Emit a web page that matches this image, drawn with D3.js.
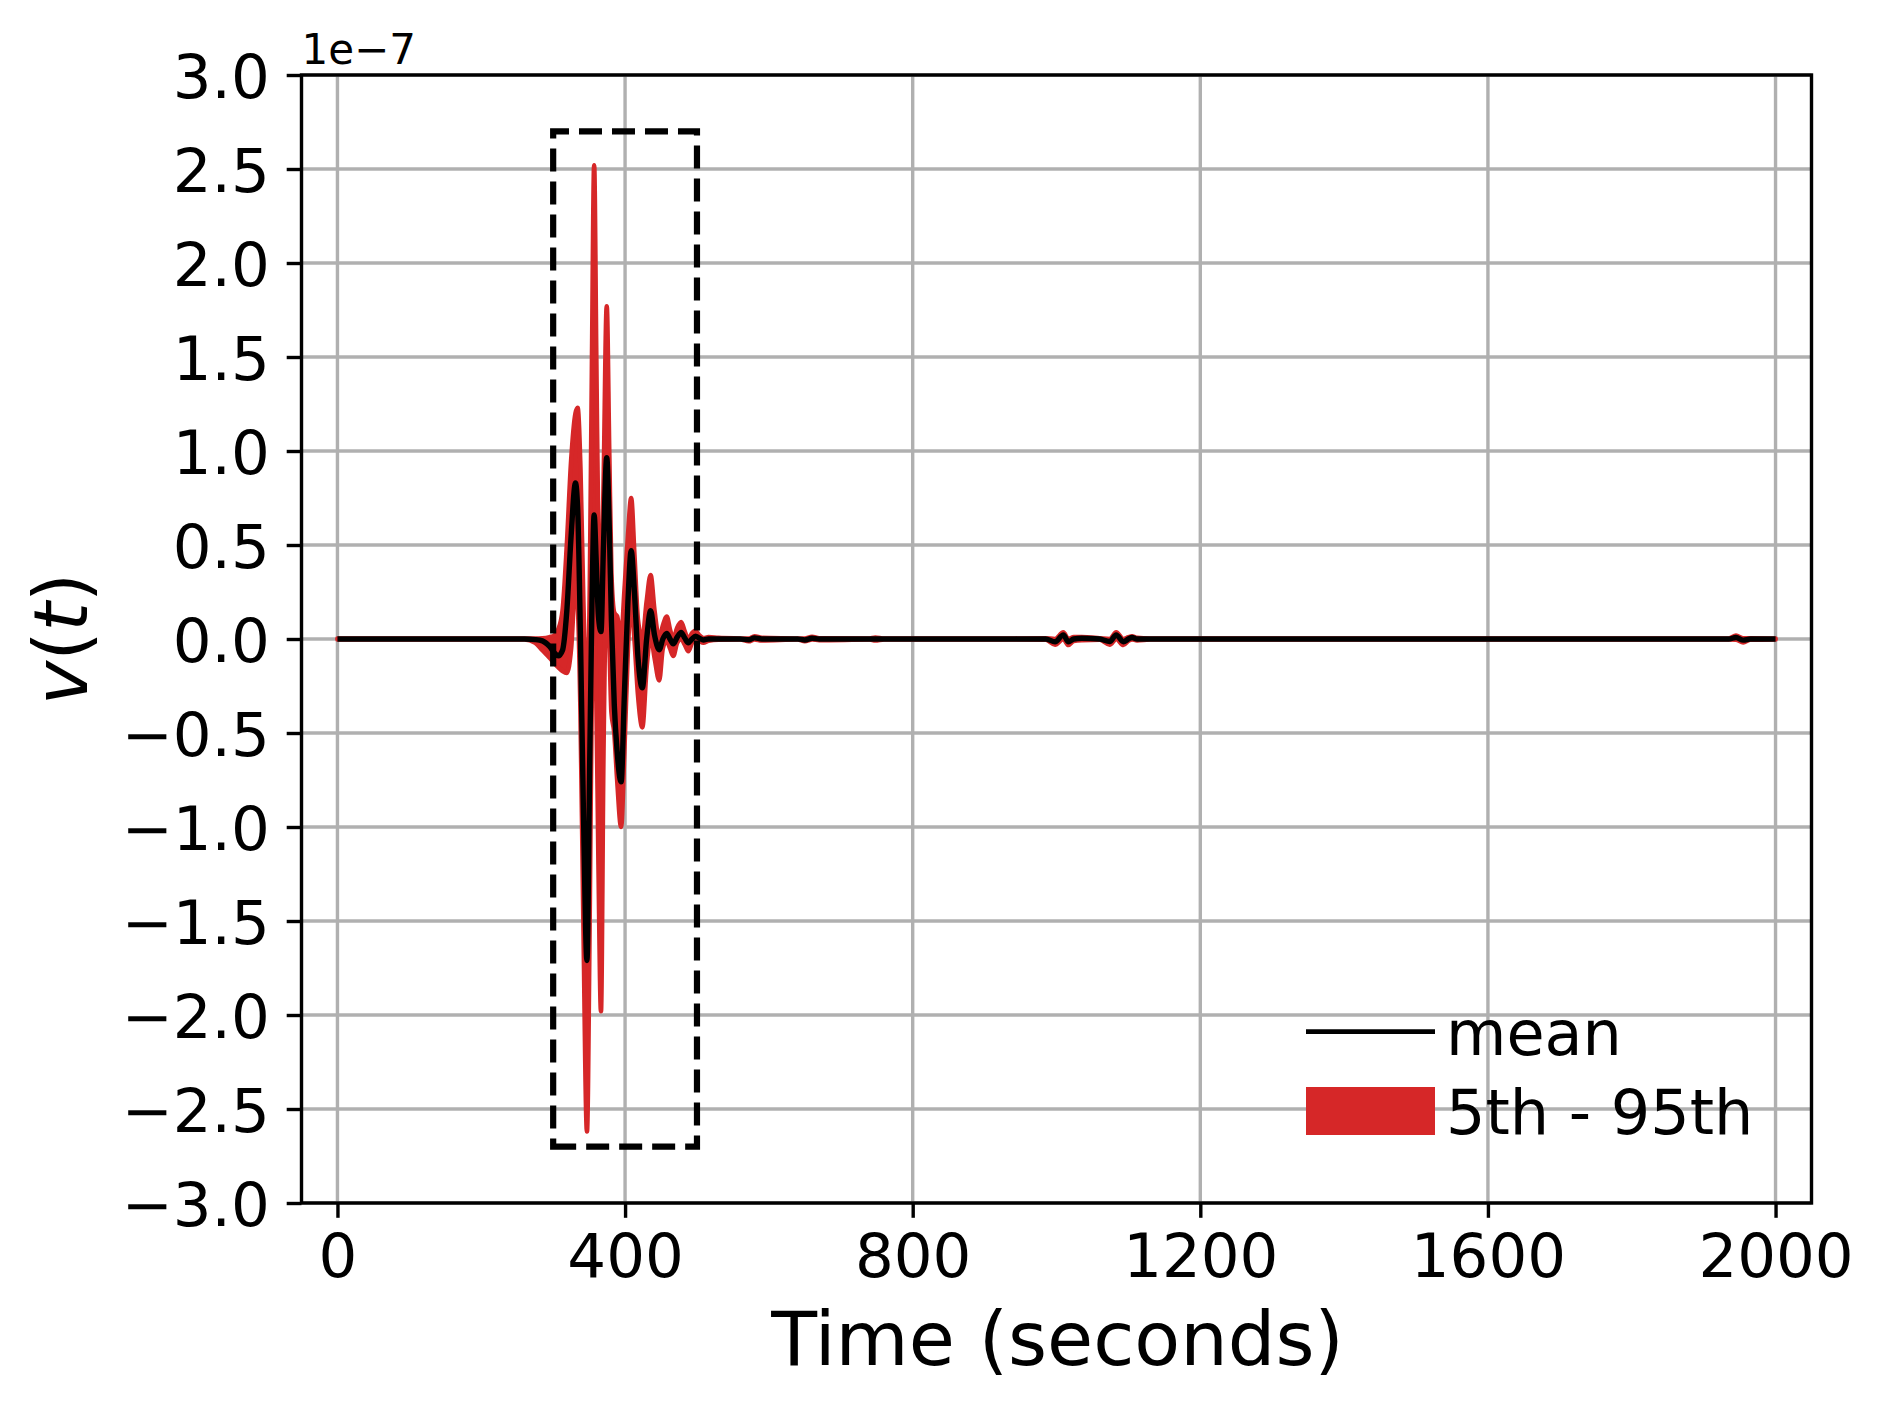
<!DOCTYPE html>
<html>
<head>
<meta charset="utf-8">
<script src="https://cdn.jsdelivr.net/npm/d3@7/dist/d3.min.js"></script>
<style>
  body { margin: 0; background: #fff; }
  text { font-family: "DejaVu Sans", sans-serif; fill: #000; }
</style>
</head>
<body>
<div id="chart"></div>
<script>
// time samples (seconds) and values in units of 1e-7
var timeS = [0, 100, 200, 260, 275, 285, 295, 302, 307, 313, 319, 325, 331, 334, 338, 342, 347, 351, 354, 357,
  360, 363, 366.5, 370, 374.5, 378, 381, 385, 389, 394.5, 399, 404, 408.5, 413, 418, 424, 430, 435.5, 441, 447.5,
  452.5, 458, 462.5, 467, 472.5, 478, 483, 488, 493, 498, 503, 509, 516, 530, 560, 572, 580, 590, 640, 650,
  660, 670, 740, 748, 760, 900, 985, 998, 1009.5, 1016.5, 1024, 1035, 1060, 1074, 1083, 1093, 1100, 1105, 1112, 1130,
  1300, 1600, 1935, 1945, 1955, 1965, 2000]

var meanV = [0, 0, 0, 0, -0.003, -0.01, -0.04, -0.075, -0.09, -0.06, 0.15, 0.55, 0.83, 0.7, 0.0, -0.9, -1.71, -0.6, 0.2, 0.66,
  0.4, 0.12, 0.04, 0.5, 0.965, 0.6, 0.1, -0.35, -0.6, -0.76, -0.3, 0.2, 0.47, 0.25, -0.1, -0.26, 0.0, 0.15, 0.02, -0.057,
  0.0, 0.03, 0.0, -0.026, 0.01, 0.035, 0.005, -0.02, 0.0, 0.015, 0.005, -0.005, 0.0, 0.0, 0.0, -0.004, 0.006, 0.0, 0.0, -0.005,
  0.004, 0.0, 0.0, 0.0, 0.0, 0.0, 0.0, -0.015, 0.022, -0.015, 0.0, 0.004, 0.0, -0.013, 0.022, -0.015, 0.0, 0.008, 0.0, 0.0,
  0.0, 0.0, 0.0, 0.008, -0.006, 0.0, 0.0]

var p05 = [-0.002, -0.002, -0.002, -0.003, -0.02, -0.06, -0.1, -0.13, -0.15, -0.17, -0.18, -0.05, 0.3, 0.2, -0.4, -1.5, -2.62, -1.4, -0.2, 0.05,
  -0.3, -1.2, -1.98, -0.6, 0.3, 0.0, -0.39, -0.5, -0.75, -1.0, -0.6, -0.05, 0.2, 0.0, -0.3, -0.47, -0.15, 0.02, -0.1, -0.22,
  -0.05, -0.01, -0.05, -0.09, -0.02, 0.0, -0.03, -0.065, -0.02, 0.0, -0.01, -0.02, -0.01, -0.004, -0.003, -0.012, -0.002, -0.008, -0.003, -0.012,
  -0.002, -0.006, -0.003, -0.008, -0.002, -0.002, -0.004, -0.03, 0.0, -0.032, -0.01, -0.006, -0.004, -0.03, 0.0, -0.032, -0.01, -0.002, -0.008, -0.003,
  -0.002, -0.002, -0.003, -0.004, -0.018, -0.004, -0.002]

var p95 = [0.002, 0.002, 0.002, 0.003, 0.003, 0.004, 0.01, 0.02, 0.05, 0.15, 0.5, 0.95, 1.2, 1.23, 0.9, 0.2, -0.35, 0.3, 1.5, 2.52,
  1.5, 0.5, 0.25, 0.8, 1.77, 1.0, 0.35, 0.14, 0.12, 0.0, 0.25, 0.55, 0.75, 0.45, 0.1, 0.0, 0.2, 0.34, 0.15, 0.0,
  0.07, 0.12, 0.05, 0.0, 0.06, 0.09, 0.04, 0.0, 0.03, 0.045, 0.02, 0.005, 0.01, 0.006, 0.003, 0.002, 0.015, 0.006, 0.003, 0.002,
  0.012, 0.004, 0.003, 0.008, 0.002, 0.002, 0.004, 0.0, 0.035, 0.0, 0.01, 0.01, 0.004, 0.0, 0.035, 0.0, 0.01, 0.015, 0.006, 0.003,
  0.002, 0.002, 0.003, 0.018, 0.004, 0.004, 0.002]

// highlighted window: time range and +/- amplitude
var boxTime = [300, 500]
var boxAmp = [-2.7, 2.7]

var xTicks = [0, 400, 800, 1200, 1600, 2000]
var yTicks = [-3.0, -2.5, -2.0, -1.5, -1.0, -0.5, 0.0, 0.5, 1.0, 1.5, 2.0, 2.5, 3.0]
var legendLabels = ['mean', '5th - 95th']

var rows = timeS.map(function(t, i) {
  return {t: t, lo: p05[i], mean: meanV[i], hi: p95[i]}
})

var svgWidth = 1884
var svgHeight = 1411

var margin = {top: 75, bottom: 208, left: 301.5, right: 72.5}
var width = svgWidth - margin.left - margin.right
var height = svgHeight - margin.top - margin.bottom

var red = '#d62728'
var gridColor = '#b0b0b0'
var tickFont = 61

var svg = d3.select('#chart')
  .append('svg')
  .attr('width', svgWidth)
  .attr('height', svgHeight)

svg.append('rect')
  .attr('width', svgWidth)
  .attr('height', svgHeight)
  .attr('fill', '#fff')

var chartGroup = svg.append('g')
  .attr('transform', `translate(${margin.left}, ${margin.top})`)

var xScale = d3.scaleLinear()
  .domain([-50, 2050])
  .range([0, width])

var yScale = d3.scaleLinear()
  .domain([-3, 3])
  .range([height, 0])

chartGroup.append('clipPath')
  .attr('id', 'plotClip')
  .append('rect')
  .attr('width', width)
  .attr('height', height)

// grid
chartGroup.append('g')
  .selectAll('line')
  .data(xTicks)
  .enter()
  .append('line')
  .attr('x1', d => xScale(d))
  .attr('x2', d => xScale(d))
  .attr('y1', 0)
  .attr('y2', height)
  .attr('stroke', gridColor)
  .attr('stroke-width', 3.4)

chartGroup.append('g')
  .selectAll('line')
  .data(yTicks)
  .enter()
  .append('line')
  .attr('x1', 0)
  .attr('x2', width)
  .attr('y1', d => yScale(d))
  .attr('y2', d => yScale(d))
  .attr('stroke', gridColor)
  .attr('stroke-width', 3.4)

var plot = chartGroup.append('g')
  .attr('clip-path', 'url(#plotClip)')

// 5th - 95th band, edged in the same red like fill_between
var band = d3.area()
  .x(d => xScale(d.t))
  .y0(d => yScale(d.lo))
  .y1(d => yScale(d.hi))
  .curve(d3.curveMonotoneX)

plot.append('path')
  .datum(rows)
  .attr('d', band)
  .attr('fill', red)
  .attr('stroke', red)
  .attr('stroke-width', 4.6)
  .attr('stroke-linejoin', 'round')

// mean line
var meanLine = d3.line()
  .x(d => xScale(d.t))
  .y(d => yScale(d.mean))
  .curve(d3.curveMonotoneX)

plot.append('path')
  .datum(rows)
  .attr('d', meanLine)
  .attr('fill', 'none')
  .attr('stroke', '#000')
  .attr('stroke-width', 5.4)
  .attr('stroke-linejoin', 'round')

// dashed window, drawn from bottom-left like a matplotlib Rectangle
var bx0 = xScale(boxTime[0]), bx1 = xScale(boxTime[1])
var by0 = yScale(boxAmp[0]), by1 = yScale(boxAmp[1])
var boxPath = d3.path()
boxPath.moveTo(bx0, by0)
boxPath.lineTo(bx1, by0)
boxPath.lineTo(bx1, by1)
boxPath.lineTo(bx0, by1)
boxPath.closePath()

chartGroup.append('path')
  .attr('d', boxPath.toString())
  .attr('fill', 'none')
  .attr('stroke', '#000')
  .attr('stroke-width', 6.2)
  .attr('stroke-dasharray', '23,10')

// axes
var fmtY = d => d3.format('.1f')(d).replace('-', '\u2212')

var xAxis = d3.axisBottom(xScale)
  .tickValues(xTicks)
  .tickFormat(d3.format('d'))
  .tickSize(14.8)
  .tickSizeOuter(0)
  .tickPadding(16)

var yAxis = d3.axisLeft(yScale)
  .tickValues(yTicks)
  .tickFormat(fmtY)
  .tickSize(14.8)
  .tickSizeOuter(0)
  .tickPadding(17)

var gx = chartGroup.append('g')
  .attr('transform', `translate(0, ${height})`)
  .call(xAxis)

var gy = chartGroup.append('g')
  .call(yAxis)

;[gx, gy].forEach(function(g) {
  g.select('.domain').remove()
  g.selectAll('.tick line').attr('stroke', '#000').attr('stroke-width', 3.4)
  g.selectAll('.tick text')
    .attr('fill', '#000')
    .style('font-family', '"DejaVu Sans", sans-serif')
    .style('font-size', tickFont + 'px')
})
gy.selectAll('.tick text').attr('dy', '0.37em')

// spines
chartGroup.append('rect')
  .attr('width', width)
  .attr('height', height)
  .attr('fill', 'none')
  .attr('stroke', '#000')
  .attr('stroke-width', 3.4)

// offset text
chartGroup.append('text')
  .attr('x', 0)
  .attr('y', -11)
  .style('font-size', '42px')
  .text('1e\u22127')

// axis labels
chartGroup.append('text')
  .attr('x', width / 2 + 1)
  .attr('y', 1365 - margin.top)
  .attr('text-anchor', 'middle')
  .style('font-size', '75px')
  .text('Time (seconds)')

var yLabel = svg.append('text')
  .attr('transform', `translate(87, ${margin.top + height / 2}) rotate(-90)`)
  .attr('text-anchor', 'middle')
  .style('font-size', '75px')
yLabel.append('tspan').style('font-style', 'italic').text('v')
yLabel.append('tspan').text('(')
yLabel.append('tspan').style('font-style', 'italic').text('t')
yLabel.append('tspan').text(')')

// legend
var legend = svg.append('g')

legend.append('line')
  .attr('x1', 1306)
  .attr('x2', 1435)
  .attr('y1', 1031.7)
  .attr('y2', 1031.7)
  .attr('stroke', '#000')
  .attr('stroke-width', 4.8)

legend.append('rect')
  .attr('x', 1306)
  .attr('y', 1087)
  .attr('width', 129)
  .attr('height', 48)
  .attr('fill', red)

legend.selectAll('.legText')
  .data(legendLabels)
  .enter()
  .append('text')
  .attr('class', 'legText')
  .attr('x', 1446)
  .attr('y', (d, i) => 1055 + i * 79)
  .style('font-size', '62px')
  .text(d => d)
</script>
</body>
</html>
